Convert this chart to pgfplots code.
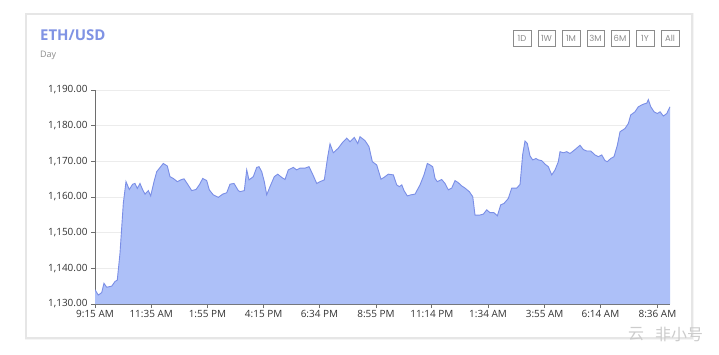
\documentclass[border=0pt]{standalone}
\usepackage{pgfplots}
\pgfplotsset{compat=1.18}
\usepackage{pgfplotstable}
\usepackage{fontspec}
\setmainfont{Open Sans}
\newfontfamily\btnfont{Poppins}
\newfontfamily\cjk{Noto Sans CJK SC}
\definecolor{fillc}{RGB}{173,192,248}
\definecolor{linec}{RGB}{122,142,230}
\definecolor{titlec}{RGB}{128,147,228}
\definecolor{ticklab}{RGB}{51,51,51}
\definecolor{axc}{RGB}{110,110,110}
\definecolor{gridc}{RGB}{236,236,236}
\definecolor{cardb}{RGB}{230,230,230}
\definecolor{btnc}{RGB}{140,140,140}

\pgfplotstableread{
m v
0 1134.0
8.2 1132.5
16.7 1133.2
22.4 1135.8
29.1 1134.7
41.6 1135.0
49.8 1136.3
55.5 1136.7
62.3 1144.3
70.5 1158.2
77.2 1164.3
85.4 1162.1
93.9 1163.6
99.6 1163.8
105.4 1162.4
112.1 1163.8
118.8 1162.0
124.6 1160.8
132.8 1161.8
138.7 1160.3
147.0 1164.3
153.7 1167.1
163.7 1168.5
170.1 1169.4
180.1 1168.7
186.8 1165.7
195.0 1165.2
205.0 1164.3
213.5 1164.8
221.7 1165.1
228.4 1164.0
240.9 1161.8
251.6 1162.1
259.8 1163.4
268.3 1165.2
278.2 1164.6
284.7 1162.0
294.7 1160.6
307.1 1159.9
318.1 1160.8
328.1 1161.2
336.3 1163.6
346.2 1163.8
357.0 1161.8
361.2 1161.5
371.9 1161.8
377.9 1167.6
383.6 1164.8
394.3 1165.7
402.8 1168.3
408.5 1168.5
415.3 1167.1
421.7 1164.3
427.7 1160.6
435.9 1162.9
446.6 1165.7
455.1 1166.4
465.1 1165.5
473.3 1164.9
481.5 1167.6
494.0 1168.3
502.4 1167.6
510.7 1168.1
523.1 1168.1
533.1 1168.5
541.3 1166.6
552.3 1163.8
560.5 1164.3
571.2 1164.8
579.7 1171.3
585.4 1174.9
593.6 1172.4
606.1 1173.7
616.0 1175.2
627.0 1176.5
635.2 1175.5
645.9 1176.7
654.4 1175.0
660.1 1176.9
672.6 1175.8
682.5 1174.1
690.8 1169.9
701.7 1169.0
712.4 1165.0
720.0 1165.5
730.6 1166.4
743.1 1166.2
751.5 1163.4
758.0 1162.9
764.2 1163.4
769.7 1161.8
778.0 1160.3
786.4 1160.6
797.1 1160.8
809.6 1163.4
819.5 1166.2
827.8 1169.4
834.5 1169.0
841.2 1168.5
847.0 1165.2
852.7 1164.3
863.6 1164.9
871.9 1163.8
880.1 1162.0
888.6 1162.5
896.8 1164.6
905.0 1164.0
913.5 1163.1
921.7 1162.5
932.4 1161.5
940.9 1160.1
946.6 1154.9
957.3 1154.9
967.3 1155.2
975.7 1156.4
984.0 1155.6
993.9 1155.6
1002.2 1154.7
1010.6 1157.8
1018.8 1158.2
1029.5 1159.6
1038.0 1162.5
1050.4 1162.5
1058.7 1163.5
1065.4 1172.0
1071.1 1175.7
1076.9 1175.0
1083.6 1171.5
1090.3 1170.4
1098.5 1170.8
1104.3 1170.4
1112.7 1170.2
1121.0 1169.2
1129.2 1168.5
1137.6 1166.2
1145.9 1167.6
1154.1 1169.9
1158.3 1172.7
1166.6 1172.4
1175.0 1172.7
1183.2 1172.2
1195.7 1173.3
1208.1 1174.5
1216.4 1173.3
1224.8 1172.9
1234.8 1172.9
1245.5 1171.8
1253.7 1171.3
1262.2 1171.8
1270.4 1170.2
1276.1 1169.9
1284.6 1170.8
1292.8 1171.3
1301.1 1174.5
1307.8 1178.3
1320.2 1179.2
1328.5 1180.6
1334.4 1183.0
1345.1 1183.9
1353.4 1185.3
1361.8 1185.8
1367.6 1186.1
1374.3 1186.3
1378.3 1187.3
1384.3 1185.3
1392.5 1183.9
1400.8 1183.4
1407.5 1183.9
1415.7 1182.7
1424.2 1183.4
1432.3 1185.3
}\ethdata

\begin{document}
\begin{tikzpicture}[x=1bp,y=1bp]
\fill[white] (0,0) rectangle (719,354);
% card
\fill[black!4] (25,14) rectangle (694,341);
\fill[white,draw=cardb,line width=1.2bp] (26,16) rectangle (692,340);
% title
\node[anchor=west,inner sep=0,text=titlec,font=\bfseries\fontsize{15}{17}\selectfont] at (40,319) {ETH/USD};
\node[anchor=west,inner sep=0,text=black!45,font=\fontsize{9}{11}\selectfont] at (40,299) {Day};
% buttons
\foreach \a/\b/\t in {513/531/1D,538/555/1W,562/580/1M,587/604/3M,611/629/6M,636/654/1Y,661/679/All}{
  \draw[btnc,line width=0.7bp] (\a,308) rectangle (\b,324);
  \node[inner sep=0,text=btnc,font=\btnfont\fontsize{8.5}{10}\selectfont] at ({(\a+\b)/2},316) {\t};
}
\begin{axis}[
  at={(95bp,50bp)}, anchor=south west,
  scale only axis, width=575bp, height=214bp,
  xmin=0, xmax=1432.3, ymin=1130, ymax=1190,
  axis lines*=left,
  axis line style={draw=axc,line width=0.8bp},
  tick style={draw=axc,line width=0.7bp},
  tick align=outside, major tick length=4bp,
  xtick={0,140,280,420,559,700,839,979,1120,1259,1401},
  xticklabels={9:15 AM,11:35 AM,1:55 PM,4:15 PM,6:34 PM,8:55 PM,11:14 PM,1:34 AM,3:55 AM,6:14 AM,8:36 AM},
  ytick={1130,1140,...,1190},
  yticklabel style={/pgf/number format/.cd,fixed,fixed zerofill,precision=2,1000 sep={,},assume math mode=true},
  ticklabel style={font=\fontsize{10}{12}\selectfont,text=ticklab},
  xticklabel style={yshift=1.5bp},
  ymajorgrids, grid style={draw=gridc,line width=0.7bp},
]
\addplot[fill=fillc,draw=none] table[x=m,y=v]{\ethdata} \closedcycle;
\addplot[draw=linec,line width=0.9bp] table[x=m,y=v]{\ethdata};
\end{axis}
% watermark
\node[anchor=west,inner sep=0,text=black!20,font=\cjk\fontsize{16}{18}\selectfont] at (655,20) {非小号};
\node[anchor=west,inner sep=0,text=black!20,font=\cjk\fontsize{16}{18}\selectfont] at (628,20) {云};
\pgfresetboundingbox
\useasboundingbox (0,0) rectangle (719,354);
\end{tikzpicture}
\end{document}
